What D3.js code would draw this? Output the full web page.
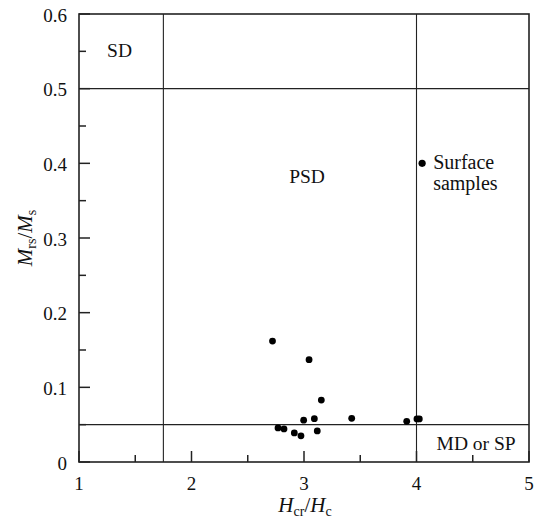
<!DOCTYPE html>
<html><head><meta charset="utf-8">
<style>body{margin:0;background:#fff;font-family:'Liberation Serif',serif}svg{display:block}svg text{font-family:'Liberation Serif',serif}</style>
<script src="https://cdn.jsdelivr.net/npm/d3@7"></script>
</head><body>
<svg id="chart" width="537" height="522" font-family="Liberation Serif"></svg>
<script>
const hcrHc = [2.72, 3.045, 3.154, 2.997, 3.092, 3.424, 3.913, 4.004, 4.025, 2.769, 2.822, 2.914, 2.973, 3.118];
const mrsMs = [0.162, 0.137, 0.083, 0.056, 0.058, 0.0585, 0.0545, 0.0577, 0.0577, 0.0456, 0.0443, 0.039, 0.035, 0.0416];
const xTicks = [1, 2, 3, 4, 5];
const yTicks = [0, 0.1, 0.2, 0.3, 0.4, 0.5, 0.6];
const xMinor = [1.5, 2.5, 3.5, 4.5];
const yMinor = [0.05, 0.15, 0.25, 0.35, 0.45, 0.55];
const vLines = [1.75, 4];
const hLines = [0.05, 0.5];
const regions = [
  {label: "SD", x: 1.36, y: 0.5424},
  {label: "PSD", x: 3.027, y: 0.3737},
  {label: "MD or SP", x: 4.53, y: 0.016}
];

const FONT = "Liberation Serif";
const W = 537, H = 522;
const m = {l: 79, r: 8, t: 14, b: 60};
const svg = d3.select("#chart");
const x = d3.scaleLinear().domain([1, 5]).range([m.l, W - m.r]);
const y = d3.scaleLinear().domain([0, 0.6]).range([H - m.b, m.t]);
const stroke = "#222";

function txt(sel) { return sel.attr("font-family", FONT).attr("fill", "#111"); }

// boundary lines
svg.append("g").selectAll("line").data(vLines).join("line").attr("x1", d => x(d)).attr("x2", d => x(d))
  .attr("y1", y(0)).attr("y2", y(0.6)).attr("stroke", stroke).attr("stroke-width", 1.1);
svg.append("g").selectAll("line").data(hLines).join("line").attr("y1", d => y(d)).attr("y2", d => y(d))
  .attr("x1", x(1)).attr("x2", x(5)).attr("stroke", stroke).attr("stroke-width", 1.1);

// ticks (inward)
const tk = svg.append("g").attr("stroke", stroke).attr("stroke-width", 1.5);
tk.selectAll("line.xM").data(xTicks).join("line").attr("class", "xM")
  .attr("x1", d => x(d)).attr("x2", d => x(d)).attr("y1", y(0)).attr("y2", y(0) - 11);
tk.selectAll("line.xm").data(xMinor).join("line").attr("class", "xm")
  .attr("x1", d => x(d)).attr("x2", d => x(d)).attr("y1", y(0)).attr("y2", y(0) - 7);
tk.selectAll("line.yM").data(yTicks).join("line").attr("class", "yM")
  .attr("y1", d => y(d)).attr("y2", d => y(d)).attr("x1", x(1)).attr("x2", x(1) + 11);
tk.selectAll("line.ym").data(yMinor).join("line").attr("class", "ym")
  .attr("y1", d => y(d)).attr("y2", d => y(d)).attr("x1", x(1)).attr("x2", x(1) + 7);

// frame
svg.append("rect").attr("x", x(1)).attr("y", y(0.6)).attr("width", x(5) - x(1)).attr("height", y(0) - y(0.6))
  .attr("fill", "none").attr("stroke", stroke).attr("stroke-width", 1.6);

// tick labels
svg.append("g").selectAll("text").data(xTicks).join("text").call(txt)
  .attr("x", d => x(d)).attr("y", y(0) + 28).attr("text-anchor", "middle").attr("font-size", 19).text(d => d);
svg.append("g").selectAll("text").data(yTicks).join("text").call(txt)
  .attr("x", x(1) - 12).attr("y", d => y(d) + 7.5).attr("text-anchor", "end").attr("font-size", 19)
  .text(d => d === 0 ? "0" : d.toFixed(1));

// region labels
svg.append("g").selectAll("text").data(regions).join("text").call(txt)
  .attr("x", d => x(d.x)).attr("y", d => y(d.y)).attr("text-anchor", "middle").attr("font-size", 19.5).text(d => d.label);

// points
svg.append("g").selectAll("circle").data(hcrHc).join("circle")
  .attr("cx", d => x(d)).attr("cy", (d, i) => y(mrsMs[i])).attr("r", 3.4).attr("fill", "#000");

// legend
const lg = {x: 4.05, y: 0.4};
svg.append("circle").attr("cx", x(lg.x)).attr("cy", y(lg.y)).attr("r", 3.6).attr("fill", "#000");
svg.append("text").call(txt).attr("x", x(lg.x) + 11).attr("y", y(lg.y) + 6).attr("font-size", 20).text("Surface");
svg.append("text").call(txt).attr("x", x(lg.x) + 11).attr("y", y(lg.y) + 27).attr("font-size", 20).text("samples");

// axis titles
const xt = svg.append("text").call(txt).attr("x", 305).attr("y", 512).attr("text-anchor", "middle").attr("font-size", 21);
xt.append("tspan").attr("font-style", "italic").text("H");
xt.append("tspan").attr("font-size", 14).attr("dy", 4).text("cr");
xt.append("tspan").attr("dy", -4).text("/");
xt.append("tspan").attr("font-style", "italic").text("H");
xt.append("tspan").attr("font-size", 14).attr("dy", 4).text("c");

const yt = svg.append("text").call(txt).attr("transform", "translate(32,238) rotate(-90)").attr("text-anchor", "middle").attr("font-size", 21);
yt.append("tspan").attr("font-style", "italic").text("M");
yt.append("tspan").attr("font-size", 14).attr("dy", 4).text("rs");
yt.append("tspan").attr("dy", -4).text("/");
yt.append("tspan").attr("font-style", "italic").text("M");
yt.append("tspan").attr("font-size", 14).attr("dy", 4).text("s");
</script>
</body></html>
